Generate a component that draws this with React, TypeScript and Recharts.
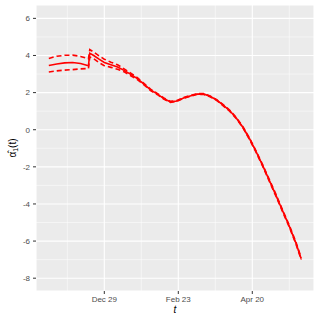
import { CartesianGrid, Line, LineChart, ReferenceLine, XAxis, YAxis } from "recharts";

const days = [
  -42, -36, -30, -24, -18, -12, -11, -8, -4, 0, 5, 10, 15, 20, 25, 30, 35, 40, 45, 50,
  55, 60, 65, 70, 75, 80, 85, 90, 95, 100, 105, 110, 115, 120, 125, 130, 135, 140, 145, 149,
];
const estimate = [
  3.46, 3.54, 3.6, 3.62, 3.57, 3.45, 4.12, 4.0, 3.8, 3.62, 3.5, 3.38, 3.2, 2.98, 2.75, 2.46, 2.15, 1.93, 1.68, 1.5,
  1.55, 1.71, 1.82, 1.92, 1.93, 1.8, 1.6, 1.32, 1.02, 0.62, 0.12, -0.5, -1.2, -1.95, -2.75, -3.55, -4.38, -5.2, -6.1, -6.95,
];
const upper = [
  3.84, 3.96, 4.01, 4.02, 3.95, 3.82, 4.32, 4.18, 3.98, 3.8, 3.64, 3.5, 3.28, 3.05, 2.8, 2.5, 2.19, 1.96, 1.71, 1.53,
  1.57, 1.73, 1.84, 1.94, 1.95, 1.82, 1.62, 1.35, 1.05, 0.65, 0.15, -0.46, -1.16, -1.91, -2.7, -3.5, -4.33, -5.15, -6.05, -6.9,
];
const lower = [
  3.11, 3.17, 3.21, 3.24, 3.28, 3.3, 3.92, 3.82, 3.62, 3.45, 3.36, 3.26, 3.12, 2.91, 2.7, 2.42, 2.11, 1.9, 1.65, 1.47,
  1.53, 1.69, 1.8, 1.9, 1.91, 1.78, 1.58, 1.29, 0.99, 0.59, 0.09, -0.54, -1.24, -1.99, -2.8, -3.6, -4.43, -5.25, -6.15, -7.0,
];

// x is days since Dec 29
const xTicks = [0, 56, 112];
const xTickLabels = ["Dec 29", "Feb 23", "Apr 20"];
const xMinor = [-28, 28, 84, 140];
const yTicks = [-8, -6, -4, -2, 0, 2, 4, 6];
const yMinor = [-7, -5, -3, -1, 1, 3, 5];

const data = days.map((d, i) => ({ t: d, est: estimate[i], up: upper[i], lo: lower[i] }));

const tickStyle = { fontSize: 8, fill: "#4D4D4D", fontFamily: "Liberation Sans, Arial, sans-serif" };

export default function App() {
  return (
    <div style={{ position: "absolute", left: 0, top: 0 }}>
      <LineChart width={319} height={319} data={data} margin={{ top: 5, right: 5, bottom: 0, left: 0 }}>
        <CartesianGrid fill="#EBEBEB" fillOpacity={1} stroke="#FFFFFF" strokeWidth={1.1} />
        {xMinor.map((v) => (
          <ReferenceLine key={"x" + v} x={v} stroke="#FFFFFF" strokeWidth={0.5} />
        ))}
        {yMinor.map((v) => (
          <ReferenceLine key={"y" + v} y={v} stroke="#FFFFFF" strokeWidth={0.5} />
        ))}
        <XAxis
          dataKey="t"
          type="number"
          domain={[-51.7, 158.7]}
          ticks={xTicks}
          tickFormatter={(v) => xTickLabels[xTicks.indexOf(v)]}
          height={28}
          tickSize={3}
          tickMargin={2}
          axisLine={false}
          tickLine={{ stroke: "#333333" }}
          tick={tickStyle}
          allowDataOverflow
          label={{
            content: () => (
              <text x={175} y={313} textAnchor="middle" fontSize={10} fontStyle="italic" fontFamily="Liberation Sans, Arial, sans-serif" fill="#000">
                t
              </text>
            ),
          }}
        />
        <YAxis
          type="number"
          domain={[-8.69, 6.72]}
          ticks={yTicks}
          width={36}
          tickSize={3}
          tickMargin={3}
          axisLine={false}
          tickLine={{ stroke: "#333333" }}
          tick={tickStyle}
          allowDataOverflow
          label={{
            content: () => (
              <text
                x={0}
                y={0}
                transform="translate(16,148) rotate(-90)"
                textAnchor="middle"
                fontSize={10}
                fontFamily="Liberation Sans, Arial, sans-serif"
                fill="#000"
              >
                {"α\u0302"}
                <tspan fontSize={7} dy={2}>1</tspan>
                <tspan dy={-2}>(t)</tspan>
              </text>
            ),
          }}
        />
        <Line dataKey="est" stroke="#FF0000" strokeWidth={1.6} dot={false} isAnimationActive={false} />
        <Line dataKey="up" stroke="#FF0000" strokeWidth={1.6} strokeDasharray="5 3" dot={false} isAnimationActive={false} />
        <Line dataKey="lo" stroke="#FF0000" strokeWidth={1.6} strokeDasharray="5 3" dot={false} isAnimationActive={false} />
      </LineChart>
    </div>
  );
}
